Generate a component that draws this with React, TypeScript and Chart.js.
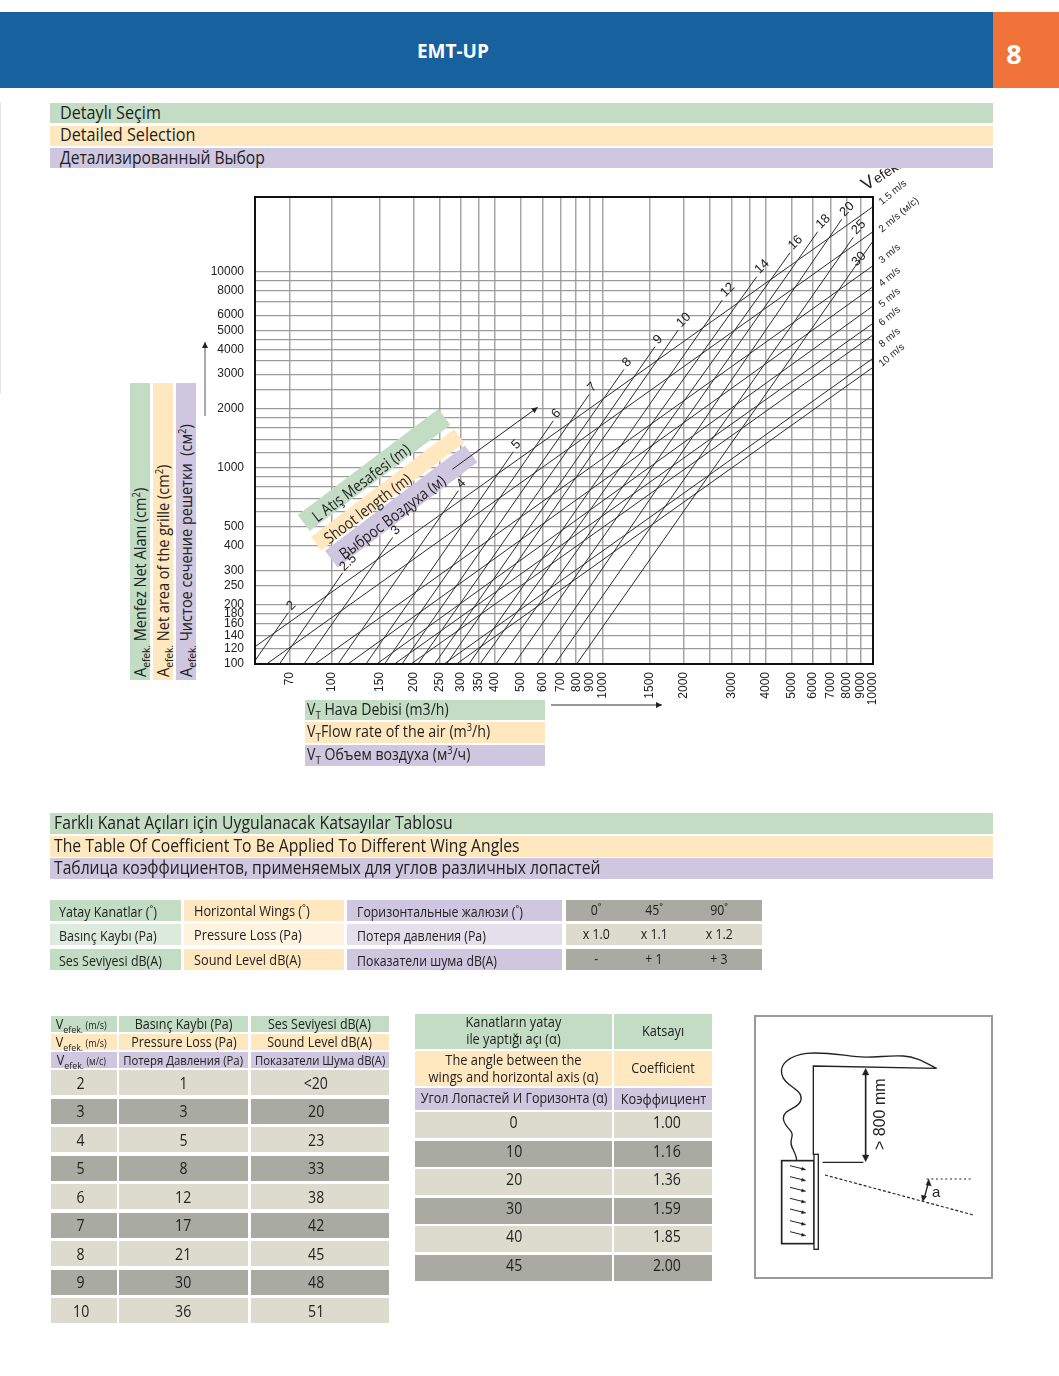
import React, { useEffect, useRef } from "react";
import { Chart, registerables } from "chart.js";

Chart.register(...registerables);

const flowTicks = [70, 100, 150, 200, 250, 300, 350, 400, 500, 600, 700, 800, 900, 1000, 1500, 2000, 2500, 3000, 3500, 4000, 5000, 6000, 7000, 8000, 9000, 10000];
const flowUnlabelled = [2500, 3500];
const areaTicks = [100, 120, 140, 160, 180, 200, 250, 300, 400, 500, 600, 700, 800, 900, 1000, 1200, 1400, 1600, 1800, 2000, 2500, 3000, 3500, 4000, 4500, 5000, 6000, 7000, 8000, 9000, 10000];
const areaLabelled = [100, 120, 140, 160, 180, 200, 250, 300, 400, 500, 1000, 2000, 3000, 4000, 5000, 6000, 8000, 10000];

const shootLabels = ["2", "2.5", "3", "4", "5", "6", "7", "8", "9", "10", "12", "14", "16", "18", "20", "25", "30"];
const shootStartFlow = [52, 64, 78.9, 105.4, 133.7, 156.6, 181.7, 208.2, 239.8, 265.4, 321.2, 352.8, 404.2, 471.2, 573, 667.9, 803.4];
const shootStartArea = [104, 100, 100, 100, 100, 100, 100, 100, 100, 100, 100, 100, 100, 100, 100, 100, 100];
const shootEndFlow = [69, 109.7, 167.8, 293.4, 468.5, 658.5, 894.3, 1202, 1564, 1907, 2774, 3717, 4934, 6247, 7661, 8457, 10000];
const shootEndArea = [182.6, 292, 442.3, 764, 1208, 1738, 2369, 3177, 4142, 5039, 7167, 9419, 12480, 15980, 18480, 14960, 14320];

const speedLabels = ["1.5 m/s", "2 m/s (м/с)", "3 m/s", "4 m/s", "5 m/s", "6 m/s", "", "8 m/s", "10 m/s"];
const speedStartFlow = [52, 57.4, 86.6, 114.7, 146.5, 170.4, 196.1, 259.7, 288.9];
const speedStartArea = [122.5, 100, 100, 100, 100, 100, 100, 100, 100];
const speedEndFlow = [10000, 10000, 10000, 10000, 10000, 10000, 10000, 10000, 10000];
const speedEndArea = [21420, 15980, 10720, 8375, 6680, 5452, 4752, 3615, 3253];

const GREEN = "#C3DDC5", YELLOW = "#FFE8BF", PURPLE = "#CFC6DF";
const LGREEN = "#DCEBDD", LYELLOW = "#FFF3DF", LPURPLE = "#E5DFEC";
const GREY_L = "#DCDBCE", GREY_D = "#A9AAA2";
const FONT = "'Open Sans', 'Noto Sans', sans-serif";
const CHART_FONT = "'Liberation Sans', Arial, sans-serif";
const CANVAS_LEFT = 200, CANVAS_TOP = 168;

const selectionTitles = ["Detaylı Seçim", "Detailed Selection", "Детализированный Выбор"];
const coefTitles = ["Farklı Kanat Açıları için Uygulanacak Katsayılar Tablosu", "The Table Of Coefficient To Be Applied To Different Wing Angles", "Таблица коэффициентов, применяемых для углов различных лопастей"];
const wingRowsTr = ["Yatay Kanatlar (˚)", "Basınç Kaybı (Pa)", "Ses Seviyesi dB(A)"];
const wingRowsEn = ["Horizontal Wings (˚)", "Pressure Loss (Pa)", "Sound Level dB(A)"];
const wingRowsRu = ["Горизонтальные жалюзи (˚)", "Потеря давления (Pa)", "Показатели шума dB(A)"];
const wingValues = [["0˚", "45˚", "90˚"], ["x 1.0", "x 1.1", "x 1.2"], ["-", "+ 1", "+ 3"]];
const speedCol = ["2", "3", "4", "5", "6", "7", "8", "9", "10"];
const lossCol = ["1", "3", "5", "8", "12", "17", "21", "30", "36"];
const soundCol = ["<20", "20", "23", "33", "38", "42", "45", "48", "51"];
const angleCol = ["0", "10", "20", "30", "40", "45"];
const factorCol = ["1.00", "1.16", "1.36", "1.59", "1.85", "2.00"];

const ribbons = [
  { x: 297.7, y: 515, w: 176, h: 20, bg: GREEN, pad: 11, text: "L Atış Mesafesi (m)" },
  { x: 311, y: 537, w: 179, h: 17, bg: YELLOW, pad: 10, text: "Shoot length (m)" },
  { x: 325, y: 550.7, w: 175, h: 21, bg: PURPLE, pad: 10, text: "Выброс Воздуха (м)" },
];

type BoxProps = { x: number; y: number; w: number; h: number; bg?: string; align?: "left" | "center"; pad?: number; size?: number; sx?: number; color?: string; weight?: number; dx?: number; dy?: number; children?: any };

function Box({ x, y, w, h, bg, align = "center", pad = 0, size = 14, sx = 0.88, color = "#222", weight = 400, dx = 0, dy = 0, children }: BoxProps) {
  return (
    <div style={{ position: "absolute", left: x, top: y, width: w, height: h, background: bg, display: "flex", alignItems: "center", justifyContent: align === "left" ? "flex-start" : "center", paddingLeft: pad, boxSizing: "border-box", textAlign: "center" }}>
      <span style={{ display: "inline-block", fontFamily: FONT, fontSize: size, fontWeight: weight, color, whiteSpace: "pre", lineHeight: 1.12, transform: `translate(${dx}px,${dy}px) scaleX(${sx})`, transformOrigin: align === "left" ? "left center" : "center" }}>{children}</span>
    </div>
  );
}

function Sub({ children }: { children: any }) {
  return <sub style={{ fontSize: "0.7em", lineHeight: 0 }}>{children}</sub>;
}

function Sup({ children }: { children: any }) {
  return <sup style={{ fontSize: "0.65em", lineHeight: 0 }}>{children}</sup>;
}

function VBand({ x, bg, children, size = 16.5 }: { x: number; bg: string; size?: number; children: any }) {
  return (
    <div style={{ position: "absolute", left: x, top: 383, width: 20, height: 297, background: bg }}>
      <span style={{ position: "absolute", left: 0, top: 294, fontFamily: FONT, fontSize: size, color: "#222", whiteSpace: "pre", transform: "rotate(-90deg) scaleX(0.88)", transformOrigin: "0 0", lineHeight: "19px" }}>{children}</span>
    </div>
  );
}

const frameAndLabels = {
  id: "frameAndLabels",
  beforeDatasetsDraw(chart: any) {
    const { ctx } = chart;
    ribbons.forEach((r) => {
      ctx.save();
      ctx.translate(r.x - CANVAS_LEFT, r.y - CANVAS_TOP);
      ctx.rotate((-37 * Math.PI) / 180);
      ctx.fillStyle = r.bg;
      ctx.fillRect(0, 0, r.w, r.h);
      ctx.restore();
    });
  },
  afterDatasetsDraw(chart: any) {
    const { ctx, chartArea: a } = chart;
    ctx.save();
    ctx.strokeStyle = "#111";
    ctx.lineWidth = 2;
    ctx.strokeRect(a.left, a.top, a.right - a.left, a.bottom - a.top);
    ctx.fillStyle = "#222";
    chart.data.datasets.forEach((ds: any, i: number) => {
      const pt = chart.getDatasetMeta(i).data[1];
      if (!pt || !ds.label) return;
      ctx.save();
      if (ds.family === "shoot") {
        const long = ds.label.length > 1;
        const dx = ds.label === "30" ? -14 : long ? 5.5 : 3;
        const dy = ds.label === "30" ? 18 : long ? -10 : -7;
        ctx.translate(pt.x + dx, pt.y + dy);
        ctx.rotate(-Math.PI / 4);
        ctx.font = `13px ${CHART_FONT}`;
        ctx.textAlign = "center";
        ctx.textBaseline = "middle";
        ctx.fillText(ds.label, 0, 0);
      } else {
        const drop: Record<string, number> = { "1.5 m/s": -3.4, "2 m/s (м/с)": -1, "3 m/s": -4, "4 m/s": -1.7, "5 m/s": -0.3, "6 m/s": 1, "8 m/s": -12.6, "10 m/s": -2.3 };
        ctx.translate(pt.x + 9, pt.y + 2 + (drop[ds.label] || 0));
        ctx.rotate((-40 * Math.PI) / 180);
        ctx.font = `10px ${CHART_FONT}`;
        ctx.textAlign = "left";
        ctx.textBaseline = "alphabetic";
        ctx.fillText(ds.label, 0, 0);
      }
      ctx.restore();
    });
    ctx.save();
    ctx.translate(a.right - 7, a.top - 6);
    ctx.rotate((-33 * Math.PI) / 180);
    ctx.textAlign = "left";
    ctx.font = `18px ${CHART_FONT}`;
    ctx.fillText("V", 0, 0);
    ctx.font = `14px ${CHART_FONT}`;
    ctx.fillText("efek.", 13, 0);
    ctx.restore();
    ctx.restore();
  },
};

function lineSet(label: string, family: string, x0: number, y0: number, x1: number, y1: number) {
  return {
    label,
    family,
    data: [{ x: x0, y: y0 }, { x: x1, y: y1 }],
    borderColor: "#2c2c2c",
    borderWidth: 1,
    pointRadius: 0,
    tension: 0,
  };
}

export default function App() {
  const ref = useRef<HTMLCanvasElement>(null);
  useEffect(() => {
    document.body.style.margin = "0";
    const datasets = [
      ...shootLabels.map((l, i) => lineSet(l, "shoot", shootStartFlow[i], shootStartArea[i], shootEndFlow[i], shootEndArea[i])),
      ...speedLabels.map((l, i) => lineSet(l, "speed", speedStartFlow[i], speedStartArea[i], speedEndFlow[i], speedEndArea[i])),
    ];
    const chart = new Chart(ref.current as HTMLCanvasElement, {
      type: "line",
      data: { datasets } as any,
      plugins: [frameAndLabels],
      options: {
        animation: false,
        responsive: false,
        devicePixelRatio: 1,
        layout: { padding: { left: 0, right: 57, top: 29, bottom: 0 } },
        plugins: { legend: { display: false }, tooltip: { enabled: false } },
        scales: {
          x: {
            type: "logarithmic",
            min: 52,
            max: 10000,
            bounds: "data",
            afterBuildTicks: (s: any) => { s.ticks = flowTicks.map((value) => ({ value })); },
            afterFit: (s: any) => { s.height = 46; s.paddingLeft = 0; s.paddingRight = 0; },
            grid: { color: "#a6a6a6", lineWidth: 1.5, drawTicks: false },
            border: { display: false },
            ticks: {
              autoSkip: false,
              minRotation: 90,
              maxRotation: 90,
              padding: 8,
              color: "#222",
              font: { family: CHART_FONT, size: 12 },
              callback: (v: any) => (flowUnlabelled.includes(Number(v)) ? "" : String(v)),
            },
          },
          y: {
            type: "logarithmic",
            min: 100,
            max: 24000,
            bounds: "data",
            afterBuildTicks: (s: any) => { s.ticks = areaTicks.map((value) => ({ value })); },
            afterFit: (s: any) => { s.width = 55; s.paddingTop = 0; s.paddingBottom = 0; },
            grid: { color: "#9a9a9a", lineWidth: 1.2, drawTicks: false },
            border: { display: false },
            ticks: {
              autoSkip: false,
              padding: 11,
              color: "#222",
              font: { family: CHART_FONT, size: 12 },
              callback: (v: any) => (areaLabelled.includes(Number(v)) ? String(v) : ""),
            },
          },
        },
      } as any,
    });
    return () => chart.destroy();
  }, []);

  const bandColors = [GREEN, YELLOW, PURPLE];
  const wingY = [900, 924, 949];
  const table4Y = speedCol.map((_, i) => 1070 + i * 28.5);
  const table5Y = angleCol.map((_, i) => 1112 + i * 28.5);
  const louvers = [482, 515, 547, 580, 612, 647, 680];

  return (
    <div style={{ position: "absolute", left: 0, top: 0, width: 1059, height: 1376, background: "#fff", overflow: "hidden" }}>
      {/* header */}
      <div style={{ position: "absolute", left: 0, top: 12, width: 993, height: 76, background: "#17619F" }} />
      <div style={{ position: "absolute", left: 993, top: 12, width: 66, height: 76, background: "#F1733A" }} />
      <Box x={0} y={11} w={905} h={80} size={20} weight={700} color="#fff" sx={0.95}>EMT-UP</Box>
      <Box x={993} y={14} w={42} h={80} size={27} weight={700} color="#fff" sx={1}>8</Box>
      <div style={{ position: "absolute", left: 0, top: 102, width: 1, height: 292, background: "#e6e6e6" }} />

      {selectionTitles.map((t, i) => (
        <Box key={t} x={50} y={[103, 125.5, 148][i]} w={943} h={20} bg={bandColors[i]} align="left" pad={10} size={18.2} sx={i === 2 ? 0.86 : 0.89} dy={-1}>{t}</Box>
      ))}

      <canvas ref={ref} width={730} height={542} style={{ position: "absolute", left: CANVAS_LEFT, top: CANVAS_TOP, width: 730, height: 542 }} />

      <VBand x={130} bg={GREEN}>A<Sub>efek.</Sub> Menfez Net Alanı (cm<Sup>2</Sup>)</VBand>
      <VBand x={153} bg={YELLOW}>A<Sub>efek.</Sub> Net area of the grille (cm<Sup>2</Sup>)</VBand>
      <VBand x={175.5} bg={PURPLE}>A<Sub>efek.</Sub> Чистое сечение решетки  (см<Sup>2</Sup>)</VBand>

      {ribbons.map((r) => (
        <div key={r.text} style={{ position: "absolute", left: r.x, top: r.y, width: r.w, height: r.h, transform: "rotate(-37deg)", transformOrigin: "0 0", display: "flex", alignItems: "center", paddingLeft: r.pad, boxSizing: "border-box" }}>
          <span style={{ fontFamily: FONT, fontSize: 16, color: "#222", whiteSpace: "pre", display: "inline-block", transform: "scaleX(0.85) translateY(2px)", transformOrigin: "left center" }}>{r.text}</span>
        </div>
      ))}

      <svg width={1059} height={1376} style={{ position: "absolute", left: 0, top: 0, pointerEvents: "none" }}>
        <defs>
          <marker id="tip" markerWidth="8" markerHeight="8" refX="6" refY="3" orient="auto-start-reverse">
            <path d="M0,0 L6,3 L0,6 Z" fill="#222" />
          </marker>
        </defs>
        <line x1={452.3} y1={469.3} x2={537.7} y2={407.3} stroke="#222" strokeWidth={1} markerEnd="url(#tip)" />
        <line x1={205} y1={416} x2={205} y2={342} stroke="#555" strokeWidth={1} markerEnd="url(#tip)" />
        <line x1={551} y1={705} x2={662} y2={705} stroke="#333" strokeWidth={1} markerEnd="url(#tip)" />

        {/* mounting sketch */}
        <rect x={755} y={1016} width={237} height={262} fill="none" stroke="#9a9a9a" strokeWidth={2} />
        <g transform="translate(740,1005) scale(0.3333)" fill="none" stroke="#222">
          <path d="M220 450 L220 183 L590 190 C 560 175 530 155 490 153 C 440 150 400 160 350 155 C 300 150 250 140 200 145 C 150 152 120 175 125 205 C 130 245 190 250 183 285 C 175 315 130 310 130 340 C 132 370 165 375 155 400 C 145 425 170 440 170 467" strokeWidth={4} />
          <rect x={125} y={467} width={97} height={249} strokeWidth={5} />
          <rect x={222} y={448} width={13} height={285} strokeWidth={4} fill="#fff" />
          <line x1={377} y1={205} x2={377} y2={455} strokeWidth={5} />
          <path d="M377 190 L367 210 L387 210 Z M377 470 L367 450 L387 450 Z" fill="#222" strokeWidth={1} />
          <line x1={248} y1={472} x2={370} y2={472} strokeWidth={4} />
          <line x1={255} y1={510} x2={700} y2={630} strokeWidth={3.5} strokeDasharray="9 6" />
          <line x1={560} y1={522} x2={695} y2={522} strokeWidth={3.5} strokeDasharray="6 8" />
          <line x1={566} y1={530} x2={552} y2={582} strokeWidth={4} />
          <path d="M566 522 L558 540 L574 543 Z M548 590 L544 570 L560 574 Z" fill="#222" strokeWidth={1} />
          {louvers.map((y) => (
            <g key={y}>
              <line x1={150} y1={y} x2={190} y2={y + 10} strokeWidth={3} />
              <path d={`M198 ${y + 12} L186 ${y + 5} L184 ${y + 14} Z`} fill="#222" strokeWidth={1} />
            </g>
          ))}
        </g>
        <text x={0} y={0} transform="translate(885,1150) rotate(-90)" fontFamily={CHART_FONT} fontSize={16} fill="#222">&gt; 800 mm</text>
        <text x={932} y={1197} fontFamily={CHART_FONT} fontSize={15} fill="#222">a</text>
      </svg>

      <Box x={305} y={700} w={240} h={20} bg={GREEN} align="left" pad={2} size={16}>V<Sub>T</Sub> Hava Debisi (m3/h)</Box>
      <Box x={305} y={722} w={240} h={21} bg={YELLOW} align="left" pad={2} size={16.2} dy={-1}>V<Sub>T</Sub>Flow rate of the air (m<Sup>3</Sup>/h)</Box>
      <Box x={305} y={745} w={240} h={21} bg={PURPLE} align="left" pad={2} size={16} dy={-1}>V<Sub>T</Sub> Объем воздуха (м<Sup>3</Sup>/ч)</Box>

      {coefTitles.map((t, i) => (
        <Box key={t} x={50} y={[813, 836, 858][i]} w={943} h={21} bg={bandColors[i]} align="left" pad={4} size={18} sx={i === 2 ? 0.87 : 0.875} dy={-1.5}>{t}</Box>
      ))}

      {wingRowsTr.map((t, i) => (
        <React.Fragment key={t}>
          <Box x={50} y={wingY[i]} w={131} h={21} bg={i === 1 ? LGREEN : GREEN} align="left" pad={9} size={14.2} dy={1}>{t}</Box>
          <Box x={184} y={wingY[i]} w={160} h={21} bg={i === 1 ? LYELLOW : YELLOW} align="left" pad={10} size={14.5} dy={1}>{wingRowsEn[i]}</Box>
          <Box x={347} y={wingY[i]} w={215} h={21} bg={i === 1 ? LPURPLE : PURPLE} align="left" pad={10} size={14} dy={1}>{wingRowsRu[i]}</Box>
          <div style={{ position: "absolute", left: 566, top: wingY[i], width: 196, height: 21, background: i === 1 ? GREY_L : GREY_D }} />
          {wingValues[i].map((v, j) => (
            <Box key={j} x={[566, 624, 689][j]} y={wingY[i] - 1} w={60} h={21} size={14}>{v}</Box>
          ))}
        </React.Fragment>
      ))}

      {/* speed table */}
      {[["m/s", "Basınç Kaybı (Pa)", "Ses Seviyesi dB(A)"], ["m/s", "Pressure Loss (Pa)", "Sound Level dB(A)"], ["м/с", "Потеря Давления (Pa)", "Показатели Шума dB(A)"]].map((r, i) => (
        <React.Fragment key={r[1]}>
          <Box x={51} y={1016 + i * 18} w={65.5} h={16} bg={bandColors[i]} size={14} sx={0.9} dx={-2}>V<Sub>efek.</Sub><span style={{ fontSize: 10 }}> ({r[0]})</span></Box>
          <Box x={119} y={1016 + i * 18} w={129} h={16} bg={bandColors[i]} size={i === 2 ? 12.9 : 14.2}>{r[1]}</Box>
          <Box x={250.7} y={1016 + i * 18} w={138.3} h={16} bg={bandColors[i]} size={i === 2 ? 12.9 : 14.2}>{r[2]}</Box>
        </React.Fragment>
      ))}
      {speedCol.map((v, i) => {
        const bg = i % 2 === 0 ? GREY_L : GREY_D;
        return (
          <React.Fragment key={v}>
            <Box x={51} y={table4Y[i]} w={65.5} h={25} bg={bg} size={16} dx={-3} dy={1}>{v}</Box>
            <Box x={119} y={table4Y[i]} w={129} h={25} bg={bg} size={16} dy={1}>{lossCol[i]}</Box>
            <Box x={250.7} y={table4Y[i]} w={138.3} h={25} bg={bg} size={16} dx={-4} dy={1}>{soundCol[i]}</Box>
          </React.Fragment>
        );
      })}

      {/* angle table */}
      <Box x={415} y={1014} w={197.3} h={35} bg={GREEN} size={14.5} dy={-1}>{"Kanatların yatay\nile yaptığı açı (α)"}</Box>
      <Box x={614.3} y={1014} w={98} h={35} bg={GREEN} size={14.5}>Katsayı</Box>
      <Box x={415} y={1051} w={197.3} h={35} bg={YELLOW} size={14.6} dy={-1.5}>{"The angle between the\nwings and horizontal axis (α)"}</Box>
      <Box x={614.3} y={1051} w={98} h={35} bg={YELLOW} size={14.5}>Coefficient</Box>
      <Box x={415} y={1088} w={197.3} h={21.5} bg={PURPLE} size={14.2} dy={-1}>Угол Лопастей И Горизонта (α)</Box>
      <Box x={614.3} y={1088} w={98} h={21.5} bg={PURPLE} size={14.5}>Коэффициент</Box>
      {angleCol.map((v, i) => {
        const bg = i % 2 === 0 ? GREY_L : GREY_D;
        return (
          <React.Fragment key={v}>
            <Box x={415} y={table5Y[i]} w={197.3} h={26} bg={bg} size={16} dy={-2}>{v}</Box>
            <Box x={614.3} y={table5Y[i]} w={98} h={26} bg={bg} size={16} dx={4} dy={-2}>{factorCol[i]}</Box>
          </React.Fragment>
        );
      })}
    </div>
  );
}
